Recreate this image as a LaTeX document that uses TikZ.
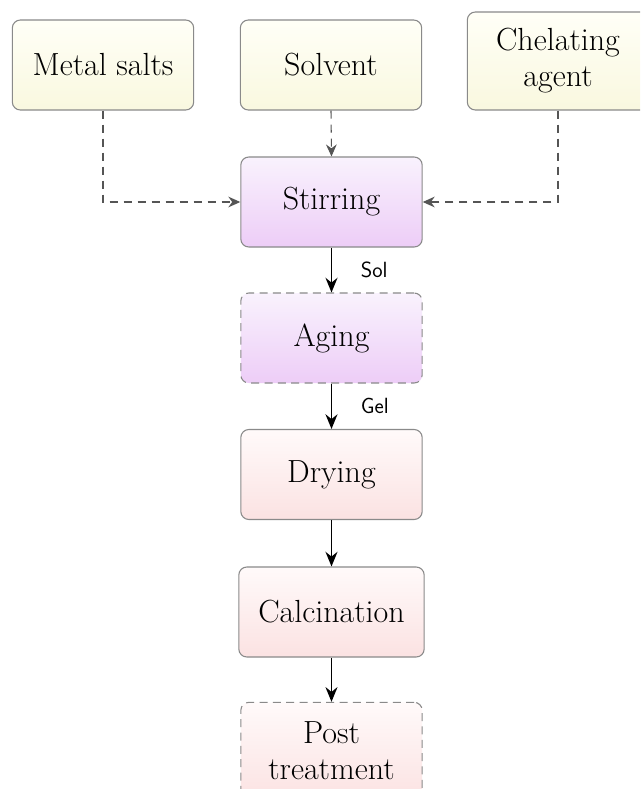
\documentclass[tikz,border=0pt]{standalone}
\usetikzlibrary{arrows.meta}
\definecolor{ytop}{HTML}{FFFFF7}
\definecolor{ybot}{HTML}{F9F8DF}
\definecolor{ptop}{HTML}{F9F2FD}
\definecolor{pbot}{HTML}{EDCDF7}
\definecolor{rtop}{HTML}{FFFAFA}
\definecolor{rbot}{HTML}{FBE2E2}
\definecolor{edgegray}{HTML}{8A8A8A}
\definecolor{dashgray}{HTML}{555555}
\tikzset{
  box/.style={draw=edgegray, line width=0.8pt, rounded corners=6pt,
    minimum width=136pt, minimum height=67.5pt, align=center,
    font=\fontsize{24}{27}\selectfont, inner sep=2pt},
  ybox/.style={box, top color=ytop, bottom color=ybot},
  pbox/.style={box, top color=ptop, bottom color=pbot},
  rbox/.style={box, top color=rtop, bottom color=rbot},
  dbox/.style={dash pattern=on 6pt off 4pt},
  feed/.style={draw=dashgray, line width=0.8pt, dash pattern=on 6pt off 4.5pt,
    -{Stealth[length=9pt,width=8pt]}},
  flow/.style={draw=black, line width=1.3pt, -{Stealth[length=11pt,width=9pt]}},
  lbl/.style={font=\sffamily\fontsize{16.5}{19}\selectfont, anchor=west}
}
\begin{document}
\begin{tikzpicture}[x=0.75pt, y=-0.75pt]
\useasboundingbox (0,0) rectangle (640,789);
\clip (0,0) rectangle (640,789);
\fill[white] (0,0) rectangle (640,789);
\node[ybox] (ms) at (103,65) {Metal salts};
\node[ybox] (sv) at (331,65) {Solvent};
\node[ybox, minimum height=73.5pt] (ch) at (558,61) {Chelating\\agent};
\node[pbox] (st) at (331.5,202) {Stirring};
\node[pbox, dbox] (ag) at (331.5,338) {Aging};
\node[rbox] (dr) at (331.5,474.5) {Drying};
\node[rbox, minimum width=139pt] (ca) at (331.5,612) {Calcination};
\node[rbox, dbox, minimum height=73pt] (pt) at (331.5,751) {Post\\treatment};
\draw[feed] (ms.south) |- (st.west);
\draw[feed] (ch.south) |- (st.east);
\draw[feed] (sv.south) -- (st.north);
\draw[flow] (st.south) -- node[lbl, xshift=18pt] {Sol} (ag.north);
\draw[flow] (ag.south) -- node[lbl, xshift=18pt] {Gel} (dr.north);
\draw[flow] (dr.south) -- (ca.north);
\draw[flow] (ca.south) -- (pt.north);
\end{tikzpicture}
\end{document}
